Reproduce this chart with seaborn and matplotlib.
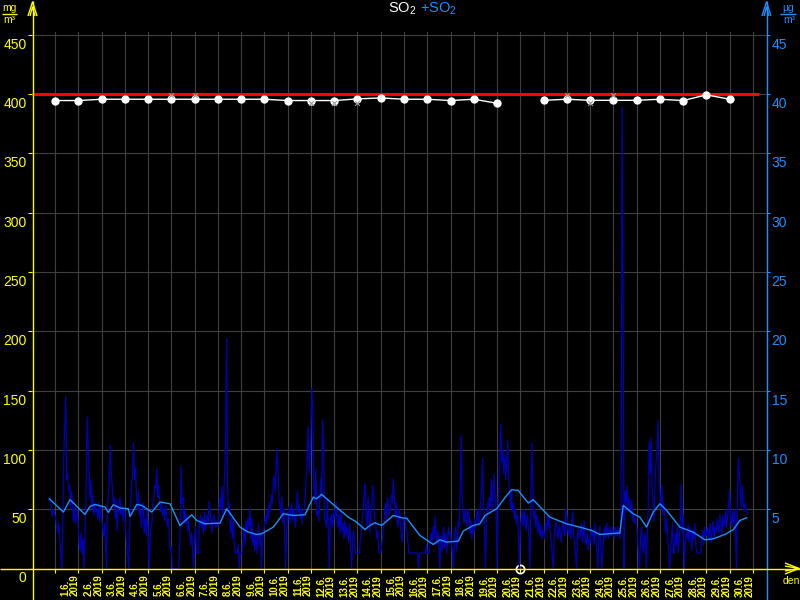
import matplotlib
matplotlib.use('Agg')

import matplotlib.pyplot as plt
import matplotlib.transforms as mtransforms
from matplotlib.lines import Line2D
import seaborn as sns
import pandas as pd
import numpy as np

# daily SO2 values (left axis), one dot per day at 00:00, 21.6. missing
daily_day = [1, 2, 3, 4, 5, 6, 7, 8, 9, 10, 11, 12, 13, 14, 15, 16, 17, 18, 19, 20,
             22, 23, 24, 25, 26, 27, 28, 29, 30]
daily_val = [394.6, 394.6, 395.7, 395.7, 395.7, 395.7, 395.7, 395.7, 395.7, 395.7,
             394.6, 394.6, 394.6, 396.0, 396.8, 395.7, 395.7, 394.6, 395.7, 392.3,
             394.8, 395.7, 394.8, 394.8, 394.8, 395.7, 394.6, 399.4, 395.7]
daily_seg = [0] * 20 + [1] * 9
missing_day = 21

# small grey marks next to some of the daily dots
mark_day = [6, 7, 12, 13, 14, 23, 24, 25]
mark_val = [399.4, 399.0, 392.3, 392.3, 392.3, 399.0, 392.3, 399.0]

limit_val = 400

# hourly +SO2 (right axis), first value at 31.5. 18:00
hourly_start = -6
hourly_val = [
    5.8, 6.0, 5.2, 4.4, 5.0, 4.6,
    4.5, 4.0, 3.4, 3.0, 3.8, 2.5, 1.0, 0.0, 4.0, 9.5, 12.0, 14.5, 7.5, 8.0, 6.5, 7.0, 5.0, 6.5, 5.5, 4.0, 5.2, 3.8, 4.3, 5.0,
    3.5, 2.0, 1.5, 3.0, 1.2, 2.5, 0.0, 3.0, 6.0, 12.8, 10.5, 8.5, 6.0, 7.5, 5.0, 6.2, 4.5, 5.5, 4.8, 5.0, 4.2, 5.6, 4.0, 5.2,
    4.3, 3.5, 2.7, 3.8, 2.5, 0.0, 4.5, 6.5, 7.5, 10.4, 8.0, 7.0, 5.5, 6.0, 4.2, 5.8, 3.2, 4.8, 5.5, 6.0, 4.6, 5.2, 4.0, 5.0,
    4.8, 3.0, 2.0, 1.0, 0.0, 3.5, 5.5, 7.0, 8.0, 10.6, 7.5, 8.5, 6.0, 5.0, 6.5, 4.5, 5.2, 3.5, 4.8, 5.5, 3.0, 4.2, 2.8, 5.0,
    3.2, 0.0, 2.5, 3.5, 4.0, 5.5, 6.2, 7.0, 6.8, 8.4, 6.0, 7.0, 5.5, 4.8, 5.6, 4.5, 5.0, 4.0, 5.3, 4.6, 3.5, 4.2, 2.5, 1.5,
    1.8, 0.0, 0.0, 0.0, 0.0, 0.0, 0.0, 0.0, 0.5, 3.0, 8.6, 5.5, 6.0, 4.0, 5.0, 3.8, 4.5, 3.2, 4.0, 3.0, 2.0, 3.0, 1.5, 0.0,
    2.5, 3.5, 1.3, 1.3, 1.3, 3.8, 4.5, 3.5, 4.2, 3.0, 4.8, 3.2, 4.0, 4.5, 3.8, 5.7, 4.6, 3.8, 3.0, 4.2, 4.5, 3.8, 3.5, 4.0,
    3.5, 4.5, 6.0, 5.0, 6.9, 4.5, 6.5, 8.0, 11.0, 19.4, 7.0, 4.5, 5.5, 3.0, 4.2, 2.5, 4.0, 2.0, 1.3, 1.3, 1.3, 2.0, 0.0, 1.3,
    1.3, 1.3, 2.5, 3.5, 2.0, 4.0, 3.0, 4.2, 3.5, 5.1, 2.5, 4.2, 2.0, 3.0, 1.5, 2.8, 1.3, 2.5, 3.8, 2.0, 3.0, 0.0, 2.5, 3.2,
    3.5, 4.5, 3.8, 5.0, 4.2, 5.5, 4.8, 6.2, 5.5, 6.8, 7.8, 6.5, 8.5, 10.1, 8.0, 6.0, 5.2, 4.5, 6.0, 3.8, 5.0, 3.0, 0.0, 3.0,
    4.5, 5.2, 3.8, 4.6, 5.5, 4.0, 5.0, 4.4, 3.5, 5.2, 6.5, 4.8, 5.4, 4.2, 5.0, 3.8, 4.6, 5.0, 6.0, 7.5, 9.0, 11.9, 9.7, 8.0,
    12.0, 15.2, 13.1, 7.0, 5.5, 8.4, 4.5, 5.0, 4.0, 5.5, 7.5, 6.0, 12.5, 10.2, 4.5, 4.0, 3.5, 6.0, 3.0, 0.0, 4.0, 4.5, 3.5, 4.2,
    5.0, 4.2, 5.6, 4.0, 3.5, 4.5, 3.0, 4.8, 3.2, 3.8, 2.5, 4.0, 2.8, 3.5, 3.0, 2.2, 3.8, 1.5, 0.0, 2.5, 3.2, 2.0, 1.3, 1.3,
    1.3, 1.3, 1.3, 2.5, 3.0, 4.2, 5.0, 6.5, 7.1, 4.5, 3.5, 6.0, 4.2, 3.0, 5.0, 5.5, 7.0, 5.5, 4.0, 3.5, 2.5, 3.2, 1.5, 1.3,
    1.3, 2.0, 2.5, 3.5, 4.8, 5.5, 4.0, 6.0, 5.2, 4.5, 5.0, 6.2, 5.5, 7.6, 6.0, 4.5, 5.5, 4.0, 3.5, 5.0, 4.2, 3.0, 2.2, 3.5,
    4.2, 4.5, 3.5, 3.0, 2.2, 1.3, 1.3, 1.3, 1.3, 1.3, 1.3, 1.3, 1.3, 1.3, 1.3, 0.0, 1.3, 1.3, 1.3, 1.3, 1.3, 1.3, 1.3, 2.0,
    1.3, 1.3, 1.3, 2.5, 3.0, 2.2, 3.5, 2.5, 4.4, 3.0, 2.0, 3.2, 1.5, 0.0, 2.8, 1.5, 2.5, 3.5, 1.8, 3.0, 1.3, 2.5, 3.5, 2.8,
    3.0, 2.2, 1.3, 0.0, 2.8, 3.5, 1.5, 2.5, 4.0, 3.5, 6.5, 11.2, 6.0, 4.5, 3.8, 5.0, 4.2, 3.6, 5.0, 4.5, 3.0, 4.0, 2.5, 3.5,
    3.0, 4.2, 3.5, 4.5, 5.0, 3.8, 4.2, 5.5, 7.0, 9.3, 5.2, 3.5, 0.0, 4.0, 5.5, 4.8, 6.0, 5.2, 7.5, 5.0, 6.5, 8.0, 6.2, 5.0,
    0.0, 5.5, 7.0, 9.5, 12.2, 9.0, 10.0, 8.0, 9.5, 7.5, 9.0, 10.8, 7.5, 6.5, 5.0, 6.5, 4.8, 5.5, 4.2, 5.0, 3.8, 4.5, 3.0, 0.0,
    3.5, 4.2, 4.8, 3.6, 5.0, 4.0, 3.2, 4.5, 3.8, 2.5, 0.0, 6.0, 10.6, 6.5, 4.2, 5.0, 3.5, 4.5, 3.0, 4.0, 2.8, 3.6, 2.5, 3.2,
    3.0, 2.5, 3.8, 3.2, 4.5, 3.5, 4.2, 3.0, 2.2, 1.0, 0.0, 2.5, 3.5, 4.0, 3.0, 2.5, 3.6, 3.0, 2.2, 3.5, 4.0, 3.2, 2.8, 5.0,
    4.5, 3.2, 2.8, 3.6, 2.5, 3.8, 4.8, 3.0, 2.2, 1.0, 0.0, 2.8, 3.5, 2.5, 3.0, 3.8, 2.2, 3.2, 4.0, 2.5, 2.0, 3.0, 1.5, 2.5,
    2.2, 3.5, 2.8, 3.0, 2.0, 3.8, 2.5, 1.2, 0.0, 2.5, 3.6, 2.0, 0.0, 1.3, 2.8, 3.5, 2.5, 3.8, 3.0, 2.5, 3.5, 3.2, 2.8, 3.5,
    3.0, 2.5, 3.5, 3.0, 2.8, 3.5, 3.0, 2.5, 5.0, 38.9, 23.5, 0.0, 6.5, 5.5, 7.0, 4.8, 6.0, 5.2, 4.5, 5.8, 4.0, 4.5, 3.8, 4.2,
    3.5, 2.5, 1.3, 0.0, 2.5, 3.5, 2.0, 1.3, 3.0, 2.5, 0.0, 3.0, 5.5, 10.7, 8.0, 11.0, 6.0, 5.5, 4.0, 7.5, 9.0, 10.0, 12.5, 8.0,
    6.5, 5.0, 7.0, 4.5, 5.5, 4.0, 3.0, 4.2, 2.5, 1.5, 0.0, 1.3, 2.5, 3.8, 1.3, 1.3, 3.0, 2.0, 3.5, 1.3, 2.5, 4.0, 7.1, 3.0,
    4.5, 0.0, 2.0, 3.0, 2.5, 3.8, 2.2, 3.5, 2.8, 1.5, 3.2, 2.5, 3.8, 2.0, 1.3, 1.3, 1.3, 1.3, 1.3, 2.5, 3.2, 2.0, 3.5, 2.8,
    2.8, 3.5, 2.5, 3.0, 3.8, 2.2, 3.2, 4.0, 2.5, 3.5, 3.0, 4.2, 3.5, 3.0, 4.5, 3.8, 2.8, 4.5, 3.5, 4.0, 5.0, 3.5, 4.5, 5.5,
    6.6, 4.0, 3.5, 4.8, 3.8, 5.0, 3.0, 0.0, 6.0, 9.3, 8.0, 6.5, 5.2, 7.0, 5.5, 4.8, 5.5, 5.0, 4.6,
]

# running mean of +SO2 (right axis), hours from 1.6. 00:00
mean_hour = [-5.9, 8.6, 15.5, 30.9, 36.1, 41.3, 51.6, 55.0, 60.1, 67.0, 75.6, 77.4, 84.3, 89.4,
             99.7, 108.3, 118.6, 128.9, 141.0, 146.2, 154.7, 170.2, 177.1, 190.8, 199.4, 208.0,
             213.2, 225.2, 235.5, 245.8, 257.9, 266.4, 269.9, 275.1, 280.2, 292.2, 302.5, 311.2,
             319.7, 324.9, 330.0, 337.0, 348.9, 359.2, 362.7, 376.4, 390.2, 397.1, 404.0, 416.0,
             421.1, 431.4, 438.3, 443.5, 455.6, 465.9, 471.0, 477.8, 488.2, 493.3, 510.5, 527.7,
             541.4, 553.5, 562.1, 579.3, 582.7, 586.1, 596.4, 603.3, 610.2, 617.1, 624.0, 630.9,
             644.6, 658.3, 670.4, 679.0, 691.0, 699.6, 706.5, 713.4]
mean_val = [5.88, 4.76, 5.8, 4.56, 5.23, 5.4, 5.18, 4.73, 5.38, 5.1, 5.04, 4.39, 5.4, 5.32,
            4.76, 5.6, 5.46, 3.63, 4.53, 4.05, 3.77, 3.83, 5.04, 3.49, 3.07, 2.87,
            2.93, 3.49, 4.62, 4.47, 4.53, 6.02, 5.88, 6.25, 5.88, 5.04, 4.33, 3.91,
            3.29, 3.63, 3.86, 3.63, 4.47, 4.25, 4.25, 2.79, 2.03, 2.42, 2.22, 2.31,
            3.15, 3.63, 3.77, 4.47, 5.04, 6.16, 6.64, 6.59, 5.52, 5.8, 4.33, 3.77,
            3.49, 3.21, 2.87, 2.98, 2.98, 5.32, 4.62, 4.33, 3.49, 4.76, 5.46, 4.9,
            3.49, 3.07, 2.42, 2.5, 2.87, 3.27, 4.05, 4.28]

day_labels = [f"{d}.6.\n2019" for d in range(1, 31)]

YELLOW = '#ffff00'
BLUE = '#1e8fff'
NAVY = '#0000b4'
GRID = '#404040'
W, H = 800, 600

plt.rcParams['font.family'] = ['Liberation Sans', 'DejaVu Sans']
plt.rcParams['mathtext.fontset'] = 'custom'
plt.rcParams['mathtext.rm'] = 'Liberation Sans'


def fx(x):
    return x / W


def fy(y):
    return 1 - y / H


fig = plt.figure(figsize=(8, 6), dpi=100, facecolor='black')
ax = fig.add_axes([fx(32), fy(568.5), (766 - 32) / W, (568.5 - 32) / H])
ax.set_facecolor('black')
ax.set_xlim(-0.99, 30.56)
ax.set_ylim(0, 452.4)
ax2 = ax.twinx()
ax2.set_ylim(0, 45.24)

for a in (ax, ax2):
    for s in a.spines.values():
        s.set_visible(False)

# grid
ax.set_yticks(range(0, 451, 50))
ax.set_xticks(range(0, 31))
ax.set_xticklabels([])
ax.set_xticks([d - 0.5 for d in range(1, 31)], labels=day_labels, minor=True)
ax.grid(True, which='major', color=GRID, lw=0.8)
ax.set_axisbelow(True)

ax.tick_params(axis='x', which='major', length=3, width=0.8, color=YELLOW, direction='out')
ax.tick_params(axis='x', which='minor', length=0, labelsize=7, labelcolor=YELLOW,
               labelrotation=90, pad=4.5)
ax.tick_params(axis='y', length=3, width=0.8, color=YELLOW, labelcolor=YELLOW,
               labelsize=10, pad=1)
ax2.set_yticks(range(5, 46, 5))
ax2.tick_params(axis='y', length=3, width=0.8, color=BLUE, labelcolor=BLUE,
                labelsize=10, pad=1)

down = mtransforms.ScaledTranslation(0, -0.03, fig.dpi_scale_trans)
for lbl in ax.get_yticklabels() + ax2.get_yticklabels():
    lbl.set_va('top')
    lbl.set_transform(lbl.get_transform() + down)
right = mtransforms.ScaledTranslation(0.035, 0, fig.dpi_scale_trans)
for lbl in ax.get_xticklabels(minor=True):
    lbl.set_multialignment('left')
    lbl.set_linespacing(0.95)
    lbl.set_fontweight('bold')
    lbl.set_transform(lbl.get_transform() + right)

# +SO2 hourly and running mean on the right axis
hourly = pd.DataFrame({
    't': (np.arange(len(hourly_val)) + hourly_start) / 24.0,
    'v': hourly_val,
})
sns.lineplot(data=hourly, x='t', y='v', ax=ax2, color=NAVY, lw=0.9, estimator=None)
mean = pd.DataFrame({'t': np.array(mean_hour) / 24.0, 'v': mean_val})
sns.lineplot(data=mean, x='t', y='v', ax=ax2, color=BLUE, lw=1.0, estimator=None)

# daily SO2 on the left axis
ax.hlines(limit_val, -0.99, 30.25, color='#ff0000', lw=2.2, zorder=3)
daily = pd.DataFrame({'t': np.array(daily_day) - 1, 'v': daily_val, 'seg': daily_seg})
sns.lineplot(data=daily, x='t', y='v', units='seg', estimator=None, ax=ax, color='white',
             lw=1.0, marker='o', markersize=6, markeredgewidth=0, legend=False, zorder=4)
sns.scatterplot(x=np.array(mark_day) - 1, y=mark_val, ax=ax, marker='x', s=12,
                color='#9a9a9a', linewidth=0.8, zorder=5)
ax.plot(missing_day - 1, 0, marker='o', mfc='none', mec='white', ms=6, mew=1.2,
        clip_on=False, zorder=6)
ax.set_xlabel('')
ax.set_ylabel('')
ax2.set_ylabel('')


def fig_line(xs, ys, color, lw=1.0):
    fig.add_artist(Line2D([fx(v) for v in xs], [fy(v) for v in ys], color=color, lw=lw,
                          transform=fig.transFigure, solid_capstyle='butt'))


# axis lines with arrows
fig_line([766.5, 766.5], [1, 600], BLUE)
fig_line([762, 766.5, 771], [16, 2, 16], BLUE)
fig_line([764, 766.5, 769], [16, 7, 16], BLUE)
fig_line([32.5, 32.5], [1, 600], YELLOW)
fig_line([28, 32.5, 37], [16, 2, 16], YELLOW)
fig_line([30, 32.5, 35], [16, 7, 16], YELLOW)
fig_line([0, 800], [568.5, 568.5], YELLOW)
fig_line([785, 799, 785], [563, 568.5, 574], YELLOW)
fig_line([785, 799, 785], [566, 568.5, 571], YELLOW)

# units
fig.text(fx(9), fy(8), 'mg', color=YELLOW, fontsize=7.5, ha='center', va='center')
fig_line([2, 17], [13.5, 13.5], YELLOW)
fig.text(fx(9.5), fy(20), 'm³', color=YELLOW, fontsize=7.5, ha='center', va='center')
fig.text(fx(788), fy(8), 'µg', color=BLUE, fontsize=7.5, ha='center', va='center')
fig_line([780, 796], [13.5, 13.5], BLUE)
fig.text(fx(789), fy(20), 'm³', color=BLUE, fontsize=7.5, ha='center', va='center')
fig.text(fx(791), fy(581), 'den', color=YELLOW, fontsize=7.5, ha='center', va='center')

# title
fig.text(fx(388), fy(9), 'SO$_2$', color='white', fontsize=10.5, ha='left', va='center')
fig.text(fx(420), fy(9), '+SO$_2$', color=BLUE, fontsize=10.5, ha='left', va='center')

fig.savefig('out.png', dpi=100, facecolor='black')
plt.close(fig)
